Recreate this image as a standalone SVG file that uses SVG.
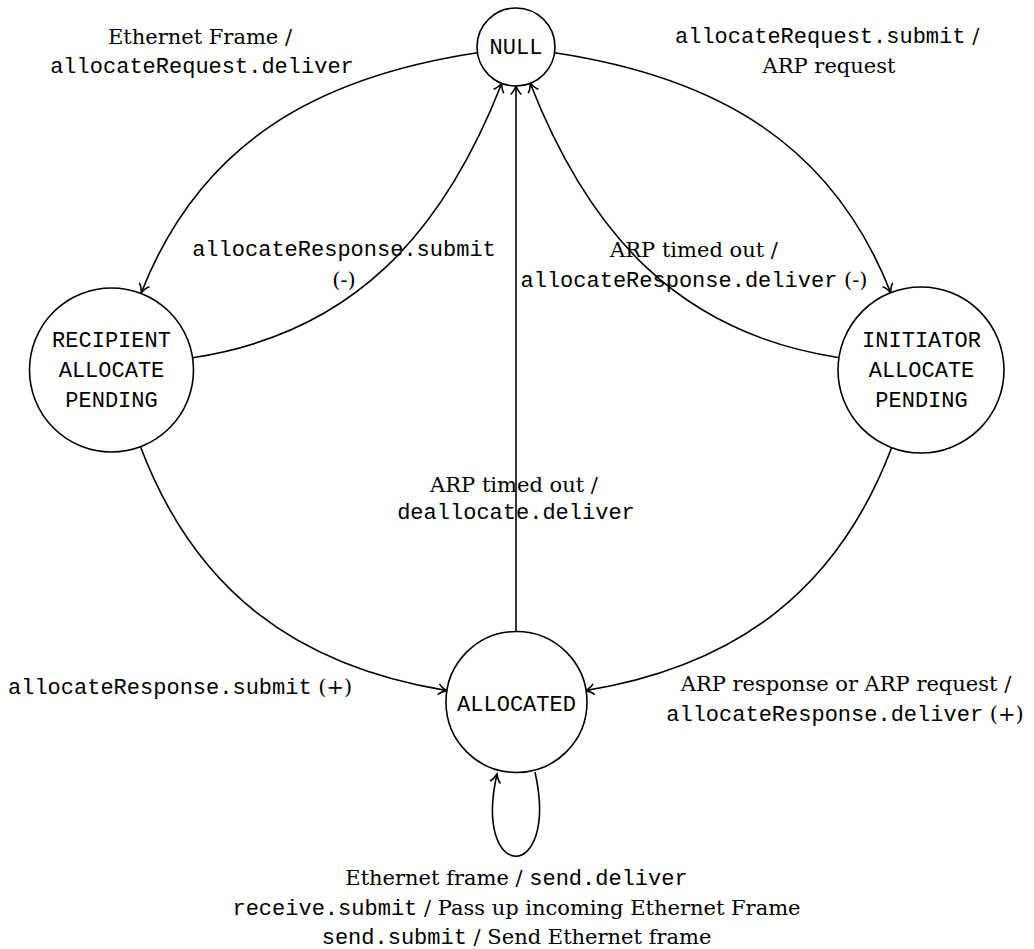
<svg xmlns="http://www.w3.org/2000/svg" width="1034" height="949" viewBox="0 0 1034 949">
<style>
.node{fill:#fff;stroke:#000;stroke-width:1.6}
.edge{fill:none;stroke:#000;stroke-width:1.6;marker-end:url(#arr)}
.mono{font-family:"Liberation Mono","DejaVu Sans Mono",monospace;font-size:22px;fill:#000}
.serif{font-family:"DejaVu Serif","Liberation Serif",serif;font-size:21px;fill:#000}
text{text-anchor:middle}
</style>
<defs>
<marker id="arr" markerUnits="userSpaceOnUse" markerWidth="16" markerHeight="16" viewBox="-12 -8 16 16" refX="0" refY="0" orient="auto">
<path d="M -8,-5 C -6,-2.5 -2,-0.8 0,0 C -2,0.8 -6,2.5 -8,5" fill="none" stroke="#000" stroke-width="1.6" stroke-linecap="round"/>
</marker>
</defs>
<g id="connectors">
<path id="e-null-recip" class="edge" d="M 477.4,52.8 C 317.5,77 200.3,142.1 141.3,292.7"/>
<path id="e-null-init" class="edge" d="M 554.6,52.8 C 714.5,77 831.7,142.1 890.7,292.7"/>
<path id="e-recip-null" class="edge" d="M 192.6,357.7 C 352.6,333.5 442.8,234 501.8,83.3"/>
<path id="e-init-null" class="edge" d="M 839.4,357.7 C 679.4,333.5 589.2,234 530.2,83.3"/>
<path id="e-alloc-null" class="edge" d="M 516,632 L 516,86"/>
<path id="e-recip-alloc" class="edge" d="M 140.5,446.7 C 194.7,590.1 295.6,665.8 446.9,690.6"/>
<path id="e-init-alloc" class="edge" d="M 892,446.7 C 837.8,590.1 736.9,665.8 585.6,690.6"/>
<path id="e-alloc-loop" class="edge" d="M 535,772 C 560,884 472,884 497,774"/>
</g>
<g id="labels">
<text x="200" y="44"><tspan class="serif">Ethernet Frame /</tspan></text>
<text x="202" y="73" class="mono">allocateRequest.deliver</text>
<text x="675" y="43" style="text-anchor:start"><tspan class="mono">allocateRequest.submit</tspan><tspan class="serif"> /</tspan></text>
<text x="829" y="73" class="serif">ARP request</text>
<text x="344" y="256" class="mono">allocateResponse.submit</text>
<text x="344" y="287" class="serif">(-)</text>
<text x="694" y="257" class="serif">ARP timed out /</text>
<text x="694" y="287"><tspan class="mono">allocateResponse.deliver</tspan><tspan class="serif"> (-)</tspan></text>
<text x="514" y="492" class="serif">ARP timed out /</text>
<text x="516" y="519" class="mono">deallocate.deliver</text>
<text x="8" y="694" style="text-anchor:start"><tspan class="mono">allocateResponse.submit</tspan><tspan class="serif"> (+)</tspan></text>
<text x="846" y="691" class="serif">ARP response or ARP request /</text>
<text x="845" y="721"><tspan class="mono">allocateResponse.deliver</tspan><tspan class="serif"> (+)</tspan></text>
<text x="516.5" y="885"><tspan class="serif">Ethernet frame / </tspan><tspan class="mono">send.deliver</tspan></text>
<text x="516.5" y="915"><tspan class="mono">receive.submit</tspan><tspan class="serif"> / Pass up incoming Ethernet Frame</tspan></text>
<text x="516.5" y="944"><tspan class="mono">send.submit</tspan><tspan class="serif"> / Send Ethernet frame</tspan></text>
</g>
<g id="node-null">
<circle class="node" cx="516" cy="47" r="39"/>
<text x="516" y="54" class="mono">NULL</text>
</g>
<g id="node-recipient">
<circle class="node" cx="111.5" cy="370" r="82"/>
<text x="111.5" y="347" class="mono">RECIPIENT</text>
<text x="111.5" y="377" class="mono">ALLOCATE</text>
<text x="111.5" y="407" class="mono">PENDING</text>
</g>
<g id="node-initiator">
<circle class="node" cx="921" cy="370" r="83"/>
<text x="921.5" y="347" class="mono">INITIATOR</text>
<text x="921.5" y="377" class="mono">ALLOCATE</text>
<text x="921.5" y="407" class="mono">PENDING</text>
</g>
<g id="node-allocated">
<circle class="node" cx="516.5" cy="702" r="70.5"/>
<text x="516.5" y="711" class="mono">ALLOCATED</text>
</g>
</svg>
